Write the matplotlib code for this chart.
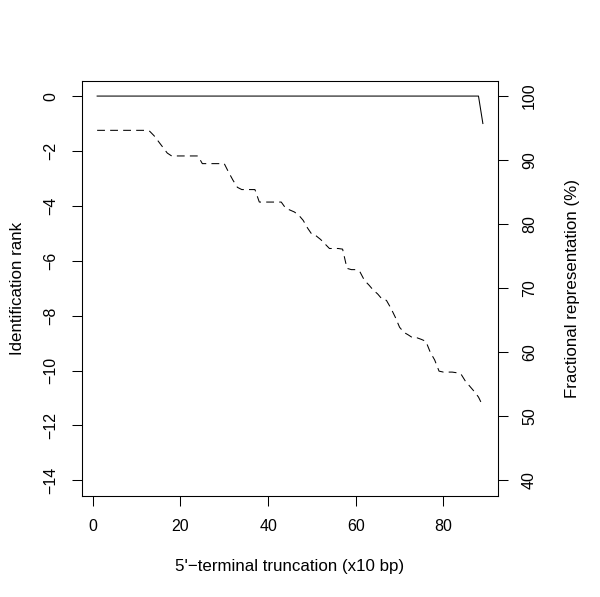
import matplotlib
matplotlib.use('Agg')
import matplotlib.pyplot as plt

## Truncation steps (x10 bp)
truncation = list(range(1, 90))

## Identification rank - solid line, left axis
rank = [0] * 88 + [-1]

## Fractional representation (%) - dashed line, right axis
fraction = [94.65, 94.65, 94.65, 94.65, 94.65, 94.65, 94.65, 94.65, 94.65, 94.65,
            94.65, 94.65, 94.5, 93.8, 92.9, 92.0, 91.1, 90.65, 90.65, 90.65,
            90.65, 90.65, 90.65, 90.65, 89.45, 89.45, 89.45, 89.45, 89.45, 89.45,
            88.1, 86.85, 85.75, 85.4, 85.4, 85.4, 85.4, 83.45, 83.45, 83.45,
            83.45, 83.45, 83.45, 82.5, 82.2, 81.9, 81.4, 80.6, 79.4, 78.4,
            78.15, 77.6, 76.9, 76.2, 76.2, 76.2, 76.1, 73.1, 72.9, 72.9,
            72.5, 71.2, 70.5, 69.7, 69.1, 68.3, 68.1, 66.9, 65.5, 63.9,
            63.1, 62.7, 62.25, 62.25, 62.0, 61.7, 60.0, 58.8, 57.05, 56.9,
            56.9, 56.9, 56.8, 56.6, 55.5, 54.7, 53.9, 53.0, 51.6]

xticks = [0, 20, 40, 60, 80]
rank_ticks = [0, -2, -4, -6, -8, -10, -12, -14]
frac_ticks = [40, 50, 60, 70, 80, 90, 100]

plt.rcParams['font.family'] = ['Liberation Sans', 'DejaVu Sans']
fs = 11.5   # tick labels
lfs = 12.2  # axis labels
lw = 0.75

fig = plt.figure(figsize=(6, 5.97), dpi=100)
ax = fig.add_axes([81.7 / 600, 1 - 495.7 / 597, (498.3 - 81.7) / 600, (495.7 - 80.7) / 597])
ax2 = ax.twinx()

ax.plot(truncation, rank, color='black', linewidth=lw)
ax2.plot(truncation, fraction, color='black', linewidth=lw, linestyle=(0, (7.5, 5)))

ax.set_xlim(-2.52, 92.52)
ax.set_ylim(-14.56, 0.56)
ax2.set_ylim(37.6, 102.4)

ax.set_xticks(xticks)
ax.set_yticks(rank_ticks)
ax2.set_yticks(frac_ticks)

for a in (ax, ax2):
    for s in a.spines.values():
        s.set_linewidth(lw)
        s.set_color('black')
    a.tick_params(direction='out', length=7, width=lw, labelsize=fs, pad=10)

ax.tick_params(axis='y', labelrotation=90)
ax2.tick_params(axis='y', labelrotation=90)
for lab in ax.get_yticklabels() + ax2.get_yticklabels():
    lab.set_va('center')

ax.set_xlabel("5'\u2212terminal truncation (x10 bp)", fontsize=lfs, va='center')
ax.xaxis.set_label_coords(0.5, (495.7 - 566) / 415)
ax.set_ylabel('Identification rank', fontsize=lfs, va='center')
ax.yaxis.set_label_coords((18 - 81.7) / 416.6, 0.5)
ax2.set_ylabel('Fractional representation (%)', fontsize=lfs, va='center', rotation=90)
ax2.yaxis.set_label_coords((572 - 81.7) / 416.6, 0.5)

fig.savefig('out.png', dpi=100)
